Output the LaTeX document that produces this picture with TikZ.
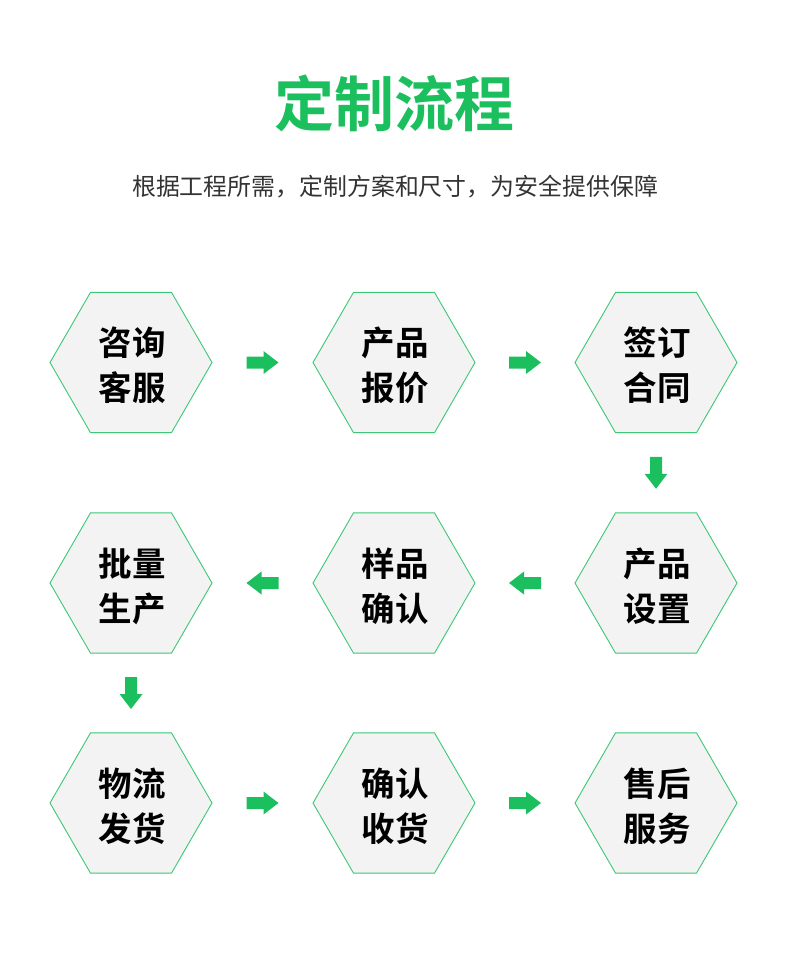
\documentclass[tikz,border=0pt]{standalone}
\usepackage{fontspec}
\setmainfont{Noto Sans CJK SC}
\newfontfamily\cjkbold{Noto Sans CJK SC Bold}
\newfontfamily\cjkreg{Noto Sans CJK SC}
\usetikzlibrary{shapes.geometric,calc}
\definecolor{brandgreen}{HTML}{1CBF5E}
\definecolor{hexline}{HTML}{3CC774}
\definecolor{hexfill}{HTML}{F3F3F3}
\definecolor{subgray}{HTML}{333333}
\tikzset{
  hexbox/.style={regular polygon, regular polygon sides=6, minimum size=162pt,
    inner sep=0pt, draw=hexline, fill=hexfill, line width=0.9pt},
  hextext/.style={font=\cjkbold\fontsize{33.5}{45}\selectfont, align=center, text=black, inner sep=0pt},
  blockarrow/.pic={\fill[brandgreen] (-16,-6) -- (1,-6) -- (1,-11.5) -- (16,0) -- (1,11.5) -- (1,6) -- (-16,6) -- cycle;}
}
\newcommand{\hexstep}[4]{%
  \node[hexbox] (#1) at (#2) {};
  \node[hextext] (#1t) at ($(#1)+(1,-3)$) {#3\\#4};
}
\begin{document}
\begin{tikzpicture}[x=1pt,y=1pt]
\useasboundingbox (0,0) rectangle (790,-979);
\node[font=\cjkbold\fontsize{60}{60}\selectfont, text=brandgreen] (title) at (394,-103) {定制流程};
\node[font=\cjkreg\fontsize{23.9}{26}\selectfont, text=subgray] (sub) at (395,-187) {根据工程所需，定制方案和尺寸，为安全提供保障};
\hexstep{h1}{131,-362.5}{咨询}{客服}
\hexstep{h2}{394,-362.5}{产品}{报价}
\hexstep{h3}{656,-362.5}{签订}{合同}
\hexstep{h4}{656,-583}{产品}{设置}
\hexstep{h5}{394,-583}{样品}{确认}
\hexstep{h6}{131,-583}{批量}{生产}
\hexstep{h7}{131,-803}{物流}{发货}
\hexstep{h8}{394,-803}{确认}{收货}
\hexstep{h9}{656,-803}{售后}{服务}
\path ($(h1)!0.5!(h2)$) pic {blockarrow};
\path ($(h2)!0.5!(h3)$) pic {blockarrow};
\path ($(h3)!0.5!(h4)$) pic[rotate=-90] {blockarrow};
\path ($(h4)!0.5!(h5)$) pic[rotate=180] {blockarrow};
\path ($(h5)!0.5!(h6)$) pic[rotate=180] {blockarrow};
\path ($(h6)!0.5!(h7)$) pic[rotate=-90] {blockarrow};
\path ($(h7)!0.5!(h8)$) pic {blockarrow};
\path ($(h8)!0.5!(h9)$) pic {blockarrow};
\end{tikzpicture}
\end{document}
